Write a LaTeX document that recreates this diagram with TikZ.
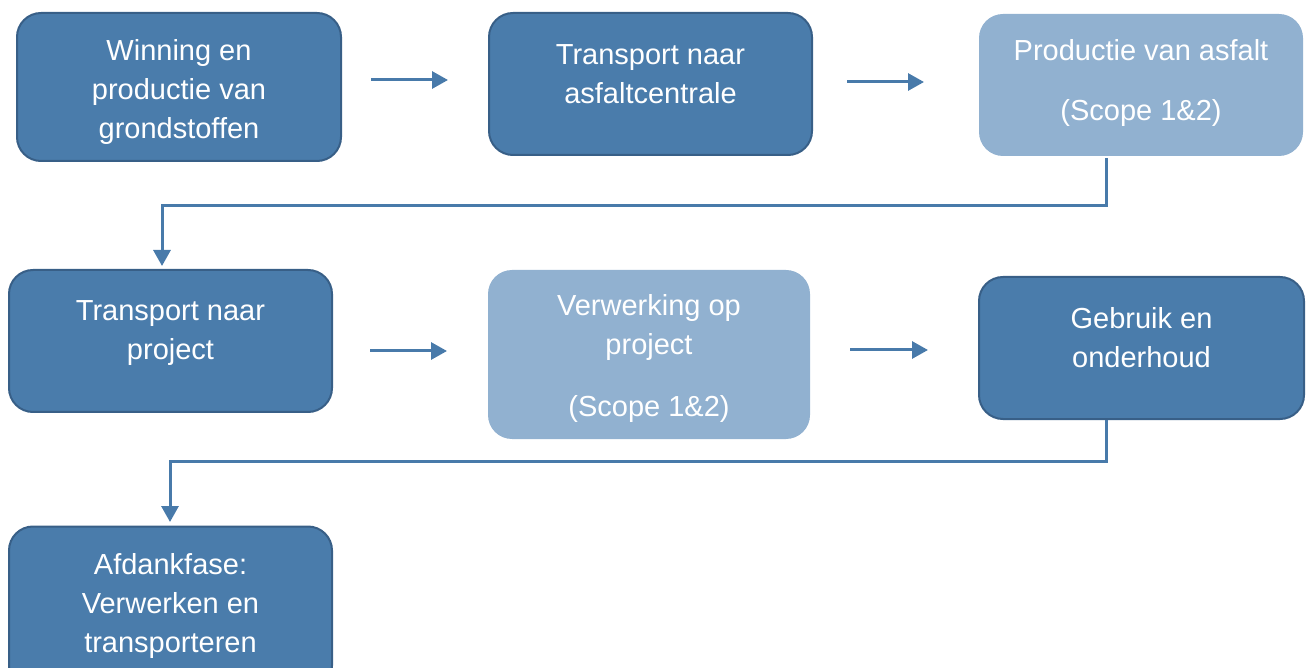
\documentclass[tikz,border=0pt]{standalone}
\usepackage{fontspec}
\setmainfont{Liberation Sans}
\usetikzlibrary{arrows.meta}
\definecolor{darkfill}{RGB}{74,124,171}
\definecolor{darkline}{RGB}{56,95,135}
\definecolor{lightfill}{RGB}{145,177,208}
\definecolor{arrowc}{RGB}{72,122,170}
\begin{document}
\begin{tikzpicture}[x=1pt,y=-1pt,
  darkbox/.style={rectangle,rounded corners=24pt,fill=darkfill,draw=darkline,line width=2pt,inner sep=0pt},
  lightbox/.style={rectangle,rounded corners=24pt,fill=lightfill,draw=none,inner sep=0pt},
  txt/.style={text=white,align=center,font=\fontsize{29}{39}\selectfont,inner sep=0pt},
  conn/.style={draw=arrowc,line width=3pt,-{Triangle[length=16pt,width=17pt]}}]
\useasboundingbox (0,0) rectangle (1310,668);
% boxes
\node[darkbox,minimum width=324pt,minimum height=148pt] (b1) at (179,87) {};
\node[darkbox,minimum width=323pt,minimum height=142pt] (b2) at (650.5,84) {};
\node[lightbox,minimum width=324pt,minimum height=142pt] (b3) at (1141,85) {};
\node[darkbox,minimum width=323pt,minimum height=142pt] (b4) at (170.5,341) {};
\node[lightbox,minimum width=322pt,minimum height=169pt] (b5) at (649,354.5) {};
\node[darkbox,minimum width=325pt,minimum height=142pt] (b6) at (1141.5,348) {};
\node[darkbox,minimum width=323pt,minimum height=163pt] (b7) at (170.5,608) {};
% texts
\node[txt] (t1) at (179,92) {Winning en\\productie van\\grondstoffen};
\node[txt] (t2) at (650.5,74) {Transport naar\\asfaltcentrale};
\node[txt] (t3) at (1141,83) {Productie van asfalt\\[21pt](Scope 1\&2)};
\node[txt] (t4) at (170.5,333) {Transport naar\\project};
\node[txt] (t5) at (649,359) {Verwerking op\\project\\[23pt](Scope 1\&2)};
\node[txt] (t6) at (1141.5,338) {Gebruik en\\onderhoud};
\node[txt] (t7) at (170.5,606) {Afdankfase:\\Verwerken en\\transporteren};
% connector end points
\coordinate (a1s) at (371,80);  \coordinate (a1e) at (448,80);
\coordinate (a2s) at (847,82);  \coordinate (a2e) at (924,82);
\coordinate (a3s) at (370,351); \coordinate (a3e) at (447,351);
\coordinate (a4s) at (850,350); \coordinate (a4e) at (928,350);
\coordinate (c1s) at (1106,158); \coordinate (c1e) at (162,266);
\coordinate (c2s) at (1106,420); \coordinate (c2e) at (170,522);
% connectors
\draw[conn] (a1s) -- (a1e);
\draw[conn] (a2s) -- (a2e);
\draw[conn] (a3s) -- (a3e);
\draw[conn] (a4s) -- (a4e);
\draw[conn] (c1s) |- (162,206) -- (c1e);
\draw[conn] (c2s) |- (170,461) -- (c2e);
\end{tikzpicture}
\end{document}
